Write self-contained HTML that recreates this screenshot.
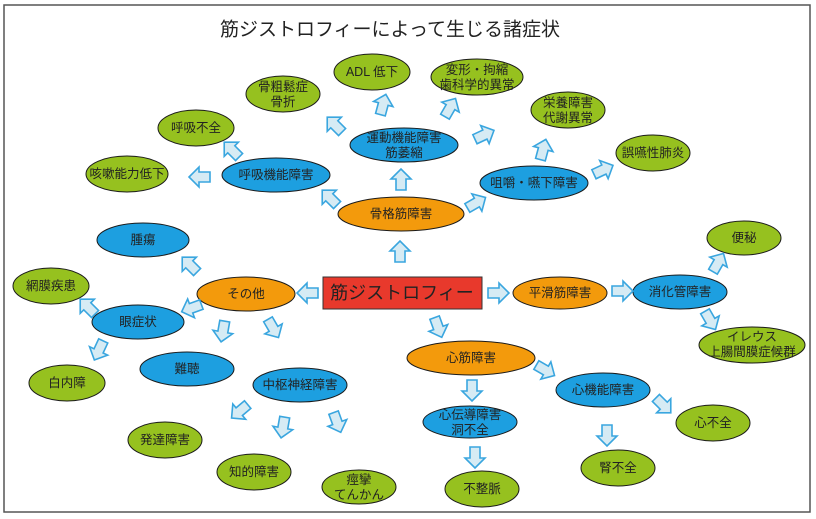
<!DOCTYPE html>
<html><head><meta charset="utf-8"><style>
html,body{margin:0;padding:0;background:#fff}
svg{display:block}
text{font-family:"Liberation Sans","Noto Sans CJK JP",sans-serif;fill:#222;text-anchor:middle;dominant-baseline:central}
.g{fill:#96c11f}.b{fill:#1d9fe0}.o{fill:#f39a0c}
ellipse{stroke:#1a1a1a;stroke-width:1}
.ar{fill:#d6ebf4;stroke:#3aa6df;stroke-width:1.6}
.t{font-size:12.5px}
</style></head><body>
<svg width="816" height="519" viewBox="0 0 816 519">
<defs><polygon id="a" class="ar" points="-10,-5 1,-5 1,-10 11,0 1,10 1,5 -10,5"/></defs>
<rect x="4" y="5" width="806" height="507" fill="#fff" stroke="#555" stroke-width="1.5"/>
<text x="390" y="30" style="font-size:19px">筋ジストロフィーによって生じる諸症状</text>

<g class="t">
<ellipse class="g" cx="372" cy="72" rx="38" ry="18"/><text x="372" y="72">ADL 低下</text>
<ellipse class="g" cx="283" cy="94" rx="37" ry="18"/><text x="283" y="87">骨粗鬆症</text><text x="283" y="102">骨折</text>
<ellipse class="g" cx="196" cy="128" rx="38" ry="18"/><text x="196" y="128">呼吸不全</text>
<ellipse class="g" cx="127" cy="174" rx="41" ry="18"/><text x="127" y="174">咳嗽能力低下</text>
<ellipse class="b" cx="276" cy="175" rx="54" ry="17"/><text x="276" y="175">呼吸機能障害</text>
<ellipse class="b" cx="404" cy="145" rx="54" ry="17"/><text x="404" y="138">運動機能障害</text><text x="404" y="153">筋萎縮</text>
<ellipse class="o" cx="401" cy="214" rx="63" ry="17"/><text x="401" y="214">骨格筋障害</text>
<ellipse class="b" cx="143" cy="240" rx="46" ry="17"/><text x="143" y="240">腫瘍</text>
<ellipse class="g" cx="477" cy="77" rx="46" ry="18"/><text x="477" y="70">変形・拘縮</text><text x="477" y="85">歯科学的異常</text>
<ellipse class="g" cx="568" cy="110" rx="37" ry="18"/><text x="568" y="103">栄養障害</text><text x="568" y="118">代謝異常</text>
<ellipse class="g" cx="653" cy="153" rx="37" ry="18"/><text x="653" y="153">誤嚥性肺炎</text>
<ellipse class="b" cx="534" cy="183" rx="54" ry="17"/><text x="534" y="183">咀嚼・嚥下障害</text>
<ellipse class="g" cx="744" cy="238" rx="37" ry="17"/><text x="744" y="238">便秘</text>

<ellipse class="g" cx="51" cy="286" rx="38" ry="18"/><text x="51" y="286">網膜疾患</text>
<ellipse class="o" cx="246" cy="294" rx="49" ry="17"/><text x="246" y="294">その他</text>
<ellipse class="b" cx="138" cy="322" rx="46" ry="17"/><text x="138" y="322">眼症状</text>
<ellipse class="b" cx="187" cy="369" rx="47" ry="17"/><text x="187" y="369">難聴</text>
<ellipse class="g" cx="67" cy="383" rx="38" ry="18"/><text x="67" y="383">白内障</text>
<ellipse class="b" cx="300" cy="385" rx="47" ry="17"/><text x="300" y="385">中枢神経障害</text>
<ellipse class="g" cx="165" cy="440" rx="37" ry="18"/><text x="165" y="440">発達障害</text>
<ellipse class="g" cx="254" cy="472" rx="37" ry="18"/><text x="254" y="472">知的障害</text>
<ellipse class="g" cx="359" cy="487" rx="37" ry="17"/><text x="359" y="480">痙攣</text><text x="359" y="495">てんかん</text>

<ellipse class="o" cx="560" cy="293" rx="47" ry="16"/><text x="560" y="293">平滑筋障害</text>
<ellipse class="b" cx="680" cy="292" rx="47" ry="17"/><text x="680" y="292">消化管障害</text>
<ellipse class="g" cx="752" cy="345" rx="53" ry="18"/><text x="752" y="337">イレウス</text><text x="752" y="352">上腸間膜症候群</text>
<ellipse class="o" cx="471" cy="358" rx="64" ry="17"/><text x="471" y="358">心筋障害</text>
<ellipse class="b" cx="603" cy="390" rx="47" ry="17"/><text x="603" y="390">心機能障害</text>
<ellipse class="b" cx="470" cy="422" rx="47" ry="16"/><text x="470" y="415">心伝導障害</text><text x="470" y="430">洞不全</text>
<ellipse class="g" cx="713" cy="423" rx="37" ry="18"/><text x="713" y="423">心不全</text>
<ellipse class="g" cx="618" cy="468" rx="37" ry="18"/><text x="618" y="468">腎不全</text>
<ellipse class="g" cx="482" cy="489" rx="37" ry="18"/><text x="482" y="489">不整脈</text>
</g>

<rect x="323" y="277" width="159" height="32" fill="#e8392c" stroke="#333" stroke-width="1"/>
<text x="402" y="293" style="font-size:18px">筋ジストロフィー</text>

<use href="#a" transform="translate(400,252) rotate(-90)"/>
<use href="#a" transform="translate(401,180) rotate(-90)"/>
<use href="#a" transform="translate(383,105) rotate(-75)"/>
<use href="#a" transform="translate(335,125) rotate(-135)"/>
<use href="#a" transform="translate(450,108) rotate(-60)"/>
<use href="#a" transform="translate(484,135) rotate(-25)"/>
<use href="#a" transform="translate(330,198) rotate(-135)"/>
<use href="#a" transform="translate(232,150) rotate(-135)"/>
<use href="#a" transform="translate(200,177) rotate(180)"/>
<use href="#a" transform="translate(476,203) rotate(-30)"/>
<use href="#a" transform="translate(543,150) rotate(-75)"/>
<use href="#a" transform="translate(603,170) rotate(-25)"/>
<use href="#a" transform="translate(308,293) rotate(180)"/>
<use href="#a" transform="translate(190,265) rotate(-135)"/>
<use href="#a" transform="translate(192,308) rotate(160)"/>
<use href="#a" transform="translate(88,307) rotate(-135)"/>
<use href="#a" transform="translate(99,350) rotate(115)"/>
<use href="#a" transform="translate(223,331) rotate(100)"/>
<use href="#a" transform="translate(273,328) rotate(60)"/>
<use href="#a" transform="translate(240,411) rotate(140)"/>
<use href="#a" transform="translate(283,427) rotate(100)"/>
<use href="#a" transform="translate(337,422) rotate(70)"/>
<use href="#a" transform="translate(498,293) rotate(0)"/>
<use href="#a" transform="translate(622,291) rotate(0)"/>
<use href="#a" transform="translate(718,263) rotate(-60)"/>
<use href="#a" transform="translate(710,320) rotate(60)"/>
<use href="#a" transform="translate(438,327) rotate(70)"/>
<use href="#a" transform="translate(545,370) rotate(30)"/>
<use href="#a" transform="translate(472,390) rotate(90)"/>
<use href="#a" transform="translate(475,457) rotate(90)"/>
<use href="#a" transform="translate(607,435) rotate(90)"/>
<use href="#a" transform="translate(663,405) rotate(45)"/>
</svg>
</body></html>
